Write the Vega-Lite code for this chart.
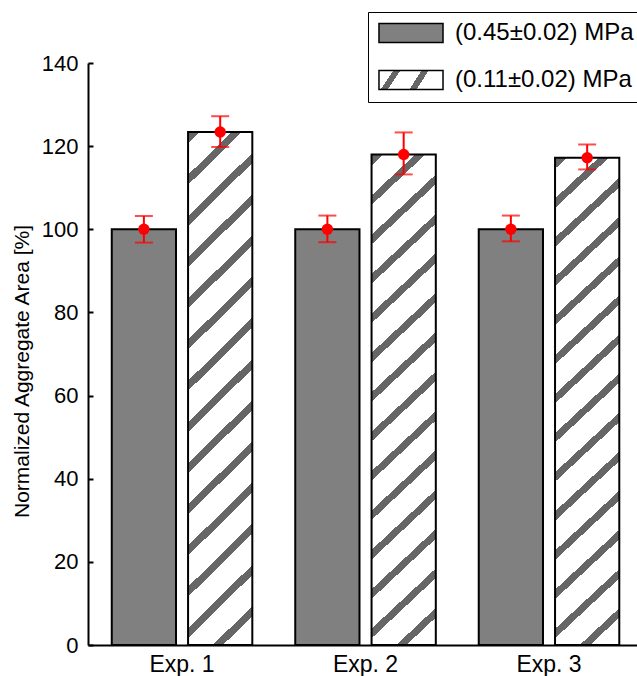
{
  "$schema": "https://vega.github.io/schema/vega-lite/v6.json",
  "width": 549,
  "height": 582,
  "autosize": {"type": "none"},
  "padding": {"left": 88, "top": 63, "right": 0, "bottom": 31},
  "background": "white",
  "config": {
    "view": {"stroke": null},
    "font": "Liberation Sans",
    "axis": {"labelFont": "Liberation Sans", "titleFont": "Liberation Sans", "labelColor": "black", "titleColor": "black", "domainColor": "black", "domainWidth": 2, "tickColor": "black", "tickWidth": 2, "grid": false},
    "legend": {"labelFont": "Liberation Sans"}
  },
  "data": {
    "values": [
      {"exp": "Exp. 1", "group": "(0.45±0.02) MPa", "value": 100, "lo": 96.8, "hi": 103.2},
      {"exp": "Exp. 1", "group": "(0.11±0.02) MPa", "value": 123.4, "lo": 119.8, "hi": 127.2},
      {"exp": "Exp. 2", "group": "(0.45±0.02) MPa", "value": 100, "lo": 96.9, "hi": 103.3},
      {"exp": "Exp. 2", "group": "(0.11±0.02) MPa", "value": 118.0, "lo": 113.2, "hi": 123.3},
      {"exp": "Exp. 3", "group": "(0.45±0.02) MPa", "value": 100, "lo": 97.1, "hi": 103.3},
      {"exp": "Exp. 3", "group": "(0.11±0.02) MPa", "value": 117.2, "lo": 114.4, "hi": 120.4}
    ]
  },
  "encoding": {
    "x": {
      "field": "exp", "type": "nominal",
      "scale": {"paddingInner": 0.234, "paddingOuter": 0.113, "align": 0.573},
      "axis": {"title": null, "labelAngle": 0, "ticks": false, "labelFontSize": 23, "labelPadding": 8}
    },
    "xOffset": {
      "field": "group", "type": "nominal",
      "scale": {"domain": ["(0.45±0.02) MPa", "(0.11±0.02) MPa"], "paddingInner": 0.158, "paddingOuter": 0}
    }
  },
  "layer": [
    {
      "mark": {"type": "bar", "stroke": "black", "strokeWidth": 2},
      "encoding": {
        "y": {
          "field": "value", "type": "quantitative",
          "scale": {"domain": [0, 140], "nice": false},
          "axis": {
            "values": [0, 20, 40, 60, 80, 100, 120, 140],
            "title": "Normalized Aggregate Area [%]",
            "titleFontSize": 21, "titleFontWeight": "normal",
            "titleAngle": 270, "titleX": -60, "titleY": 308, "titleAlign": "center", "titleBaseline": "alphabetic",
            "labelFontSize": 22, "tickSize": -5, "labelPadding": 15
          }
        },
        "fill": {
          "field": "group", "type": "nominal",
          "scale": {
            "domain": ["(0.45±0.02) MPa", "(0.11±0.02) MPa"],
            "range": [
              "#808080",
              {"expr": "{gradient: 'linear', x1: 0, y1: 0, x2: 1, y2: 0.1953, stops: [{offset: 0, color: '#ffffff'}, {offset: 0.214, color: '#ffffff'}, {offset: 0.214, color: '#666666'}, {offset: 0.32, color: '#666666'}, {offset: 0.32, color: '#ffffff'}, {offset: 0.643, color: '#ffffff'}, {offset: 0.643, color: '#666666'}, {offset: 0.749, color: '#666666'}, {offset: 0.749, color: '#ffffff'}, {offset: 1, color: '#ffffff'}]}"}
            ]
          },
          "condition": {
            "test": "datum.group === '(0.11±0.02) MPa'",
            "value": {
              "gradient": "linear", "x1": 0, "y1": 0, "x2": 0.136, "y2": 1.106,
              "stops": [
                {"offset": 0, "color": "#ffffff"},
                {"offset": 0.0028, "color": "#ffffff"}, {"offset": 0.0028, "color": "#666666"}, {"offset": 0.0202, "color": "#666666"}, {"offset": 0.0202, "color": "#ffffff"},
                {"offset": 0.0743, "color": "#ffffff"}, {"offset": 0.0743, "color": "#666666"}, {"offset": 0.0917, "color": "#666666"}, {"offset": 0.0917, "color": "#ffffff"},
                {"offset": 0.1458, "color": "#ffffff"}, {"offset": 0.1458, "color": "#666666"}, {"offset": 0.1632, "color": "#666666"}, {"offset": 0.1632, "color": "#ffffff"},
                {"offset": 0.2174, "color": "#ffffff"}, {"offset": 0.2174, "color": "#666666"}, {"offset": 0.2348, "color": "#666666"}, {"offset": 0.2348, "color": "#ffffff"},
                {"offset": 0.2889, "color": "#ffffff"}, {"offset": 0.2889, "color": "#666666"}, {"offset": 0.3063, "color": "#666666"}, {"offset": 0.3063, "color": "#ffffff"},
                {"offset": 0.3604, "color": "#ffffff"}, {"offset": 0.3604, "color": "#666666"}, {"offset": 0.3778, "color": "#666666"}, {"offset": 0.3778, "color": "#ffffff"},
                {"offset": 0.4319, "color": "#ffffff"}, {"offset": 0.4319, "color": "#666666"}, {"offset": 0.4493, "color": "#666666"}, {"offset": 0.4493, "color": "#ffffff"},
                {"offset": 0.5035, "color": "#ffffff"}, {"offset": 0.5035, "color": "#666666"}, {"offset": 0.5209, "color": "#666666"}, {"offset": 0.5209, "color": "#ffffff"},
                {"offset": 0.575, "color": "#ffffff"}, {"offset": 0.575, "color": "#666666"}, {"offset": 0.5924, "color": "#666666"}, {"offset": 0.5924, "color": "#ffffff"},
                {"offset": 0.6465, "color": "#ffffff"}, {"offset": 0.6465, "color": "#666666"}, {"offset": 0.6639, "color": "#666666"}, {"offset": 0.6639, "color": "#ffffff"},
                {"offset": 0.7181, "color": "#ffffff"}, {"offset": 0.7181, "color": "#666666"}, {"offset": 0.7355, "color": "#666666"}, {"offset": 0.7355, "color": "#ffffff"},
                {"offset": 0.7896, "color": "#ffffff"}, {"offset": 0.7896, "color": "#666666"}, {"offset": 0.807, "color": "#666666"}, {"offset": 0.807, "color": "#ffffff"},
                {"offset": 0.8611, "color": "#ffffff"}, {"offset": 0.8611, "color": "#666666"}, {"offset": 0.8785, "color": "#666666"}, {"offset": 0.8785, "color": "#ffffff"},
                {"offset": 0.9327, "color": "#ffffff"}, {"offset": 0.9327, "color": "#666666"}, {"offset": 0.9501, "color": "#666666"}, {"offset": 0.9501, "color": "#ffffff"},
                {"offset": 1, "color": "#ffffff"}
              ]
            }
          },
          "legend": {
            "title": null,
            "orient": "none",
            "legendX": 280,
            "legendY": -51,
            "strokeColor": "black",
            "fillColor": "white",
            "padding": 9,
            "labelFontSize": 24,
            "labelColor": "black",
            "labelLimit": 400,
            "symbolType": "M-3.37,-1H3.37V1H-3.37Z",
            "symbolSize": 361,
            "symbolOpacity": 1,
            "symbolOffset": 22,
            "labelOffset": 32,
            "rowPadding": 21,
            "encode": {
              "legend": {"strokeWidth": {"value": 2}},
              "symbols": {
                "stroke": {"value": "#333333"},
                "strokeWidth": {"value": 1.2}
              }
            }
          }
        }
      }
    },
    {
      "mark": {"type": "rule", "color": "#ff0000", "strokeWidth": 2},
      "encoding": {
        "y": {"field": "lo", "type": "quantitative"},
        "y2": {"field": "hi"}
      }
    },
    {
      "mark": {"type": "tick", "color": "#ff0000", "thickness": 2, "size": 18, "orient": "horizontal"},
      "encoding": {"y": {"field": "lo", "type": "quantitative"}}
    },
    {
      "mark": {"type": "tick", "color": "#ff0000", "thickness": 2, "size": 18, "orient": "horizontal"},
      "encoding": {"y": {"field": "hi", "type": "quantitative"}}
    },
    {
      "mark": {"type": "point", "shape": "circle", "filled": true, "color": "#ff0000", "opacity": 1, "size": 130},
      "encoding": {"y": {"field": "value", "type": "quantitative"}}
    }
  ]
}
